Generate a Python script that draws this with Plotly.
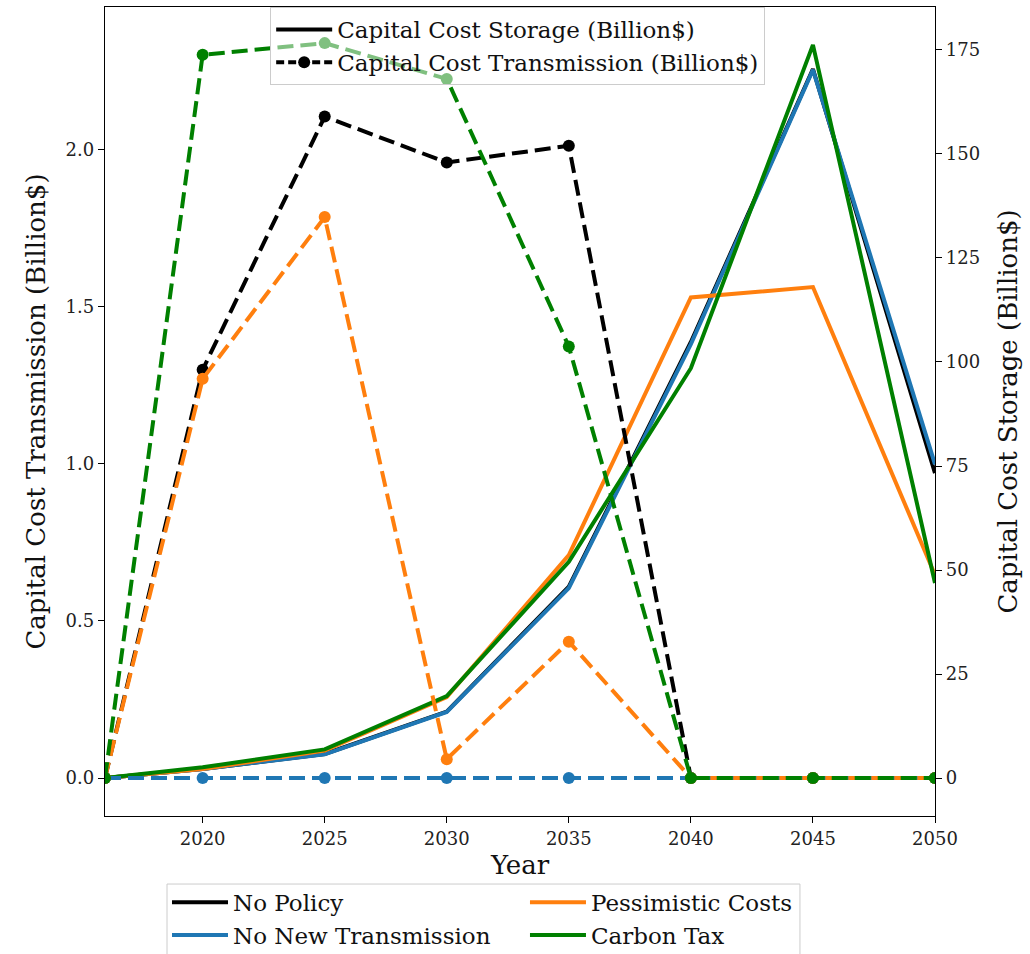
import plotly.graph_objects as go

# Model years
years = [2016, 2020, 2025, 2030, 2035, 2040, 2045, 2050]

# Scenario names and colours
scenarios = ["No Policy", "No New Transmission", "Pessimistic Costs", "Carbon Tax"]
colors = ["#000000", "#1f77b4", "#ff7f0e", "#008000"]

# Capital cost of storage (Billion$), right axis
storage_no_policy = [0, 2.2, 5.8, 16.0, 46.0, 104.8, 170.4, 73.3]
storage_no_new_tx = [0, 2.2, 5.7, 15.9, 45.7, 104.3, 170.2, 75.4]
storage_pessimistic = [0, 2.2, 6.6, 19.5, 53.6, 115.5, 118.0, 48.8]
storage_carbon_tax = [0, 2.6, 6.9, 19.7, 52.0, 98.5, 176.2, 46.9]

# Capital cost of transmission (Billion$), left axis
tx_no_policy = [0, 1.30, 2.106, 1.960, 2.013, 0, 0, 0]
tx_no_new_tx = [0, 0, 0, 0, 0, 0, 0, 0]
tx_pessimistic = [0, 1.271, 1.786, 0.06, 0.434, 0, 0, 0]
tx_carbon_tax = [0, 2.303, 2.340, 2.226, 1.374, 0, 0, 0]

storage = [storage_no_policy, storage_no_new_tx, storage_pessimistic, storage_carbon_tax]
transmission = [tx_no_policy, tx_no_new_tx, tx_pessimistic, tx_carbon_tax]

# Axis ticks
x_ticks = [2020, 2025, 2030, 2035, 2040, 2045, 2050]
tx_ticks = [0.0, 0.5, 1.0, 1.5, 2.0]
storage_ticks = [0, 25, 50, 75, 100, 125, 150, 175]

FONT = "DejaVu Serif"
DASH = "16px,7px"
LW = 4

# bottom legend: two columns, each its own legend inside one shared frame
column_of = {"No Policy": "legend2", "No New Transmission": "legend2",
             "Pessimistic Costs": "legend3", "Carbon Tax": "legend3"}

fig = go.Figure()

# Storage: solid lines on the right axis (y)
for name, col, vals in zip(scenarios, colors, storage):
    fig.add_trace(go.Scatter(
        x=years, y=vals, mode="lines", name=name,
        line=dict(color=col, width=LW),
        yaxis="y", legend=column_of[name],
    ))

# Transmission: dashed lines with markers on the left axis (y2)
for name, col, vals in zip(scenarios, colors, transmission):
    fig.add_trace(go.Scatter(
        x=years, y=vals, mode="lines+markers", name=name,
        line=dict(color=col, width=LW, dash=DASH),
        marker=dict(color=col, size=12),
        yaxis="y2", showlegend=False,
    ))

# Legend keys for the line styles
fig.add_trace(go.Scatter(
    x=[None], y=[None], mode="lines", name="Capital Cost Storage (Billion$)",
    line=dict(color="black", width=LW), yaxis="y2", legend="legend",
))
fig.add_trace(go.Scatter(
    x=[None], y=[None], mode="lines+markers", name="Capital Cost Transmission (Billion$)",
    line=dict(color="black", width=LW, dash="8px,4px"), marker=dict(color="black", size=12),
    yaxis="y2", legend="legend",
))

axis_common = dict(
    showgrid=False, zeroline=False, showline=True, linecolor="black", linewidth=1.3,
    ticks="outside", ticklen=6, tickwidth=1.3, tickcolor="black",
    tickfont=dict(family=FONT, size=18, color="#222222"),
)

legend_font = dict(family=FONT, size=23, color="#111111")
bottom_legend = dict(
    y=-0.080, yanchor="top", bgcolor="rgba(0,0,0,0)", borderwidth=0,
    font=legend_font, itemwidth=56, tracegroupgap=0,
)

fig.update_layout(
    width=1030, height=954,
    margin=dict(l=105, r=95, t=7, b=138, autoexpand=False),
    plot_bgcolor="white", paper_bgcolor="white",
    font=dict(family=FONT, color="#111111"),
    xaxis=dict(
        range=[2016, 2050], tickvals=x_ticks, mirror=True,
        title=dict(text="Year", font=dict(family=FONT, size=26), standoff=8),
        **axis_common,
    ),
    yaxis=dict(
        side="right", range=[-9.1, 185.3], tickvals=storage_ticks,
        title=dict(text="Capital Cost Storage (Billion$)", font=dict(family=FONT, size=26), standoff=19),
        **axis_common,
    ),
    yaxis2=dict(
        side="left", overlaying="y", range=[-0.121, 2.455], tickvals=tx_ticks, tickformat=".1f",
        title=dict(text="Capital Cost Transmission (Billion$)", font=dict(family=FONT, size=26), standoff=12),
        **axis_common,
    ),
    legend=dict(
        x=0.199, xanchor="left", y=1.0, yanchor="top",
        bgcolor="rgba(255,255,255,0.5)", bordercolor="#cccccc", borderwidth=1,
        font=legend_font, itemwidth=56, tracegroupgap=0,
    ),
    legend2=dict(x=0.0747, xanchor="left", **bottom_legend),
    legend3=dict(x=0.506, xanchor="left", **bottom_legend),
    shapes=[dict(
        type="rect", xref="paper", yref="paper",
        x0=0.0747, x1=0.8373, y0=-0.178, y1=-0.0841,
        line=dict(color="#cccccc", width=1), fillcolor="white", layer="above",
    )],
)

fig.write_html("out.html")
